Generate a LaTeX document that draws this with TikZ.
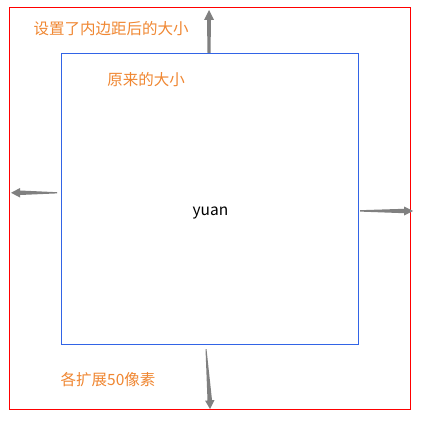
\documentclass[tikz,border=0pt]{standalone}
\usepackage{fontspec}
\setmainfont{Noto Sans CJK SC}
\definecolor{lab}{RGB}{240,135,50}
\definecolor{arr}{RGB}{128,128,128}
\definecolor{bl}{RGB}{50,100,230}
\begin{document}
\begin{tikzpicture}[x=1pt,y=-1pt,
  lbl/.style={text=lab,font=\fontsize{15.5}{16}\selectfont,inner sep=0pt,anchor=center},
  arrfill/.style={fill=arr,draw=none}]
\useasboundingbox (0,0) rectangle (441,433);
\fill[white] (0,0) rectangle (441,433);
\draw[red,line width=1pt] (9.5,8) rectangle (410,409);
\draw[bl,line width=1pt] (61,54) rectangle (358.3,344.3);
\node[lbl] (t1) at (111,29) {设置了内边距后的大小};
\node[lbl] (t2) at (146,80) {原来的大小};
\node[lbl] (t3) at (108,380) {各扩展50像素};
\node[font=\fontsize{15.5}{16}\selectfont,inner sep=0pt] (y) at (210.5,212.5) {yuan};
% top arrow
\fill[arrfill] (207.5,53) -- (210.5,53) -- (211,20) -- (214,20) -- (209,10) -- (204,20) -- (207,20) -- cycle;
% left arrow
\fill[arrfill] (57,192.2) -- (57,193.4) -- (20,195) -- (20,197.5) -- (11,192.8) -- (20,188) -- (20,190.5) -- cycle;
% right arrow
\fill[arrfill] (360,210.2) -- (360,211.6) -- (404,213.2) -- (404,215.5) -- (413,211) -- (404,206.5) -- (404,208.8) -- cycle;
% bottom arrow
\fill[arrfill] (205.5,349) -- (206.5,349) -- (212,400) -- (214.5,400) -- (210,409) -- (205,400.5) -- (207.5,400.5) -- cycle;
\end{tikzpicture}
\end{document}
